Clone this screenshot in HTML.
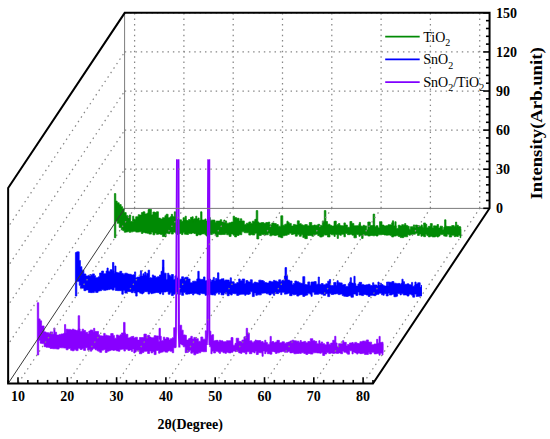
<!DOCTYPE html>
<html><head><meta charset="utf-8"><style>
html,body{margin:0;padding:0;background:#fff;}
svg{display:block;}
</style></head><body>
<svg width="550" height="439" viewBox="0 0 550 439">
<rect width="550" height="439" fill="#fff"/>
<path d="M115.70,201.09 L117.20,201.09 L117.20,202.78 L119.20,202.78 L119.20,204.57 L121.20,204.57 L121.20,206.69 L122.70,206.69 L122.70,208.84 L124.20,208.84 L124.20,212.60 L126.20,212.60 L126.20,215.43 L127.70,215.43 L127.70,216.81 L129.20,216.81 L129.20,215.03 L130.70,215.03 L130.70,221.53 L133.20,221.53 L133.20,219.23 L135.70,219.23 L135.70,216.73 L138.20,216.73 L138.20,214.67 L139.40,214.67 L139.40,215.02 L141.40,215.02 L141.40,212.59 L142.90,212.59 L142.90,211.83 L144.90,211.83 L144.90,213.91 L146.90,213.91 L146.90,213.16 L148.90,213.16 L148.90,209.20 L151.40,209.20 L151.40,214.77 L152.90,214.77 L152.90,212.02 L154.90,212.02 L154.90,212.56 L156.40,212.56 L156.40,211.75 L158.40,211.75 L158.40,218.10 L160.40,218.10 L160.40,218.96 L162.40,218.96 L162.40,217.63 L164.90,217.63 L164.90,215.69 L166.10,215.69 L166.10,214.25 L168.10,214.25 L168.10,217.65 L170.10,217.65 L170.10,216.85 L171.30,216.85 L171.30,216.13 L173.30,216.13 L173.30,216.93 L175.80,216.93 L175.80,218.71 L177.00,218.71 L177.00,219.79 L179.00,219.79 L179.00,219.80 L181.50,219.80 L181.50,221.35 L183.00,221.35 L183.00,217.66 L184.50,217.66 L184.50,220.10 L186.50,220.10 L186.50,220.55 L188.50,220.55 L188.50,219.49 L190.50,219.49 L190.50,217.37 L192.00,217.37 L192.00,219.28 L194.00,219.28 L194.00,218.85 L196.00,218.85 L196.00,218.95 L198.00,218.95 L198.00,217.98 L199.20,217.98 L199.20,220.36 L201.20,220.36 L201.20,219.94 L203.70,219.94 L203.70,219.98 L204.90,219.98 L204.90,218.94 L206.10,218.94 L206.10,221.07 L207.30,221.07 L207.30,220.58 L208.80,220.58 L208.80,217.57 L210.30,217.57 L210.30,220.14 L212.30,220.14 L212.30,220.01 L213.80,220.01 L213.80,220.08 L215.00,220.08 L215.00,222.14 L216.20,222.14 L216.20,221.04 L218.20,221.04 L218.20,221.04 L220.20,221.04 L220.20,219.70 L221.70,219.70 L221.70,222.09 L224.20,222.09 L224.20,222.43 L225.40,222.43 L225.40,220.89 L226.60,220.89 L226.60,223.15 L229.10,223.15 L229.10,222.76 L231.10,222.76 L231.10,222.09 L233.10,222.09 L233.10,216.16 L234.60,216.16 L234.60,217.60 L236.60,217.60 L236.60,218.27 L239.10,218.27 L239.10,221.05 L240.30,221.05 L240.30,218.77 L241.80,218.77 L241.80,220.96 L244.30,220.96 L244.30,224.44 L246.30,224.44 L246.30,223.20 L248.80,223.20 L248.80,221.94 L250.80,221.94 L250.80,223.54 L252.30,223.54 L252.30,221.18 L254.80,221.18 L254.80,219.36 L256.80,219.36 L256.80,221.88 L258.80,221.88 L258.80,222.96 L261.30,222.96 L261.30,222.54 L263.80,222.54 L263.80,223.33 L265.80,223.33 L265.80,222.47 L268.30,222.47 L268.30,222.08 L269.80,222.08 L269.80,224.80 L271.80,224.80 L271.80,222.97 L274.30,222.97 L274.30,223.49 L276.30,223.49 L276.30,224.52 L278.30,224.52 L278.30,226.14 L280.80,226.14 L280.80,215.78 L282.80,215.78 L282.80,225.23 L284.80,225.23 L284.80,224.18 L287.30,224.18 L287.30,222.61 L289.30,222.61 L289.30,223.38 L291.30,223.38 L291.30,226.06 L293.30,226.06 L293.30,224.41 L295.30,224.41 L295.30,224.94 L297.30,224.94 L297.30,220.83 L299.30,220.83 L299.30,223.65 L301.30,223.65 L301.30,224.79 L302.80,224.79 L302.80,225.31 L304.80,225.31 L304.80,224.61 L307.30,224.61 L307.30,225.87 L309.30,225.87 L309.30,222.51 L311.80,222.51 L311.80,225.60 L313.80,225.60 L313.80,224.98 L315.30,224.98 L315.30,225.28 L317.80,225.28 L317.80,224.32 L319.80,224.32 L319.80,225.43 L322.30,225.43 L322.30,220.96 L323.80,220.96 L323.80,222.31 L325.00,222.31 L325.00,221.52 L327.50,221.52 L327.50,224.19 L330.00,224.19 L330.00,225.34 L331.50,225.34 L331.50,225.99 L334.00,225.99 L334.00,221.32 L335.20,221.32 L335.20,225.52 L337.20,225.52 L337.20,224.49 L338.40,224.49 L338.40,223.57 L339.90,223.57 L339.90,225.58 L341.40,225.58 L341.40,225.74 L343.90,225.74 L343.90,222.89 L345.40,222.89 L345.40,225.01 L347.40,225.01 L347.40,227.26 L349.90,227.26 L349.90,221.53 L351.90,221.53 L351.90,223.45 L353.90,223.45 L353.90,225.82 L356.40,225.82 L356.40,225.70 L358.90,225.70 L358.90,224.19 L360.10,224.19 L360.10,225.91 L361.60,225.91 L361.60,226.26 L363.10,226.26 L363.10,225.28 L364.60,225.28 L364.60,225.88 L366.60,225.88 L366.60,229.78 L367.80,229.78 L367.80,222.01 L370.30,222.01 L370.30,225.58 L372.80,225.58 L372.80,225.44 L374.80,225.44 L374.80,226.83 L376.00,226.83 L376.00,225.67 L378.00,225.67 L378.00,227.73 L379.50,227.73 L379.50,221.66 L382.00,221.66 L382.00,225.08 L384.00,225.08 L384.00,225.93 L386.00,225.93 L386.00,225.69 L388.00,225.69 L388.00,224.68 L390.50,224.68 L390.50,225.00 L391.70,225.00 L391.70,222.83 L393.70,222.83 L393.70,225.90 L396.20,225.90 L396.20,228.46 L398.20,228.46 L398.20,225.23 L400.20,225.23 L400.20,226.03 L401.70,226.03 L401.70,224.64 L403.70,224.64 L403.70,225.54 L405.70,225.54 L405.70,225.46 L407.70,225.46 L407.70,226.33 L409.20,226.33 L409.20,229.23 L410.40,229.23 L410.40,226.72 L412.90,226.72 L412.90,227.69 L415.40,227.69 L415.40,225.02 L417.40,225.02 L417.40,225.61 L419.40,225.61 L419.40,226.39 L420.90,226.39 L420.90,226.33 L422.10,226.33 L422.10,227.21 L423.60,227.21 L423.60,222.97 L425.60,222.97 L425.60,224.29 L426.80,224.29 L426.80,227.78 L428.30,227.78 L428.30,226.34 L430.30,226.34 L430.30,223.61 L432.30,223.61 L432.30,227.71 L433.50,227.71 L433.50,225.87 L435.50,225.87 L435.50,226.07 L437.00,226.07 L437.00,224.52 L438.50,224.52 L438.50,227.95 L440.00,227.95 L440.00,226.20 L442.50,226.20 L442.50,229.39 L443.70,229.39 L443.70,227.33 L445.20,227.33 L445.20,226.21 L447.20,226.21 L447.20,226.49 L449.20,226.49 L449.20,226.41 L451.70,226.41 L451.70,225.56 L454.20,225.56 L454.20,226.39 L455.70,226.39 L455.70,227.71 L456.90,227.71 L456.90,225.17 L458.40,225.17 L458.40,226.59 L460.40,226.59 L460.40,226.95 L460.80,226.95 L460.80,236.12 L460.40,236.12 L460.40,235.32 L458.40,235.32 L458.40,236.50 L456.90,236.50 L456.90,236.30 L455.70,236.30 L455.70,236.64 L454.20,236.64 L454.20,235.26 L451.70,235.26 L451.70,236.98 L449.20,236.98 L449.20,234.37 L447.20,234.37 L447.20,236.31 L445.20,236.31 L445.20,236.04 L443.70,236.04 L443.70,234.39 L442.50,234.39 L442.50,234.61 L440.00,234.61 L440.00,236.09 L438.50,236.09 L438.50,237.00 L437.00,237.00 L437.00,236.16 L435.50,236.16 L435.50,236.92 L433.50,236.92 L433.50,236.99 L432.30,236.99 L432.30,236.28 L430.30,236.28 L430.30,236.88 L428.30,236.88 L428.30,235.52 L426.80,235.52 L426.80,234.62 L425.60,234.62 L425.60,236.68 L423.60,236.68 L423.60,235.65 L422.10,235.65 L422.10,236.32 L420.90,236.32 L420.90,233.99 L419.40,233.99 L419.40,235.38 L417.40,235.38 L417.40,233.34 L415.40,233.34 L415.40,234.21 L412.90,234.21 L412.90,234.38 L410.40,234.38 L410.40,235.26 L409.20,235.26 L409.20,234.65 L407.70,234.65 L407.70,236.78 L405.70,236.78 L405.70,236.71 L403.70,236.71 L403.70,237.65 L401.70,237.65 L401.70,237.57 L400.20,237.57 L400.20,236.47 L398.20,236.47 L398.20,235.60 L396.20,235.60 L396.20,236.08 L393.70,236.08 L393.70,236.96 L391.70,236.96 L391.70,235.71 L390.50,235.71 L390.50,235.09 L388.00,235.09 L388.00,235.14 L386.00,235.14 L386.00,234.99 L384.00,234.99 L384.00,234.49 L382.00,234.49 L382.00,234.77 L379.50,234.77 L379.50,234.75 L378.00,234.75 L378.00,236.03 L376.00,236.03 L376.00,235.34 L374.80,235.34 L374.80,235.81 L372.80,235.81 L372.80,235.41 L370.30,235.41 L370.30,236.03 L367.80,236.03 L367.80,234.89 L366.60,234.89 L366.60,235.31 L364.60,235.31 L364.60,234.55 L363.10,234.55 L363.10,238.41 L361.60,238.41 L361.60,235.37 L360.10,235.37 L360.10,236.35 L358.90,236.35 L358.90,234.43 L356.40,234.43 L356.40,237.80 L353.90,237.80 L353.90,235.14 L351.90,235.14 L351.90,234.32 L349.90,234.32 L349.90,234.67 L347.40,234.67 L347.40,233.42 L345.40,233.42 L345.40,236.80 L343.90,236.80 L343.90,234.28 L341.40,234.28 L341.40,235.30 L339.90,235.30 L339.90,234.66 L338.40,234.66 L338.40,238.41 L337.20,238.41 L337.20,234.57 L335.20,234.57 L335.20,236.45 L334.00,236.45 L334.00,234.85 L331.50,234.85 L331.50,233.96 L330.00,233.96 L330.00,236.94 L327.50,236.94 L327.50,235.05 L325.00,235.05 L325.00,234.81 L323.80,234.81 L323.80,236.18 L322.30,236.18 L322.30,237.04 L319.80,237.04 L319.80,235.67 L317.80,235.67 L317.80,234.23 L315.30,234.23 L315.30,235.05 L313.80,235.05 L313.80,236.23 L311.80,236.23 L311.80,235.39 L309.30,235.39 L309.30,235.52 L307.30,235.52 L307.30,238.65 L304.80,238.65 L304.80,237.54 L302.80,237.54 L302.80,234.67 L301.30,234.67 L301.30,236.30 L299.30,236.30 L299.30,234.57 L297.30,234.57 L297.30,236.15 L295.30,236.15 L295.30,234.01 L293.30,234.01 L293.30,234.49 L291.30,234.49 L291.30,233.19 L289.30,233.19 L289.30,234.39 L287.30,234.39 L287.30,235.32 L284.80,235.32 L284.80,235.74 L282.80,235.74 L282.80,237.69 L280.80,237.69 L280.80,236.98 L278.30,236.98 L278.30,235.01 L276.30,235.01 L276.30,235.54 L274.30,235.54 L274.30,235.12 L271.80,235.12 L271.80,235.86 L269.80,235.86 L269.80,233.29 L268.30,233.29 L268.30,234.79 L265.80,234.79 L265.80,235.05 L263.80,235.05 L263.80,234.45 L261.30,234.45 L261.30,235.49 L258.80,235.49 L258.80,238.92 L256.80,238.92 L256.80,233.29 L254.80,233.29 L254.80,234.97 L252.30,234.97 L252.30,234.55 L250.80,234.55 L250.80,235.09 L248.80,235.09 L248.80,232.77 L246.30,232.77 L246.30,232.77 L244.30,232.77 L244.30,231.85 L241.80,231.85 L241.80,234.74 L240.30,234.74 L240.30,234.44 L239.10,234.44 L239.10,235.44 L236.60,235.44 L236.60,236.88 L234.60,236.88 L234.60,235.15 L233.10,235.15 L233.10,233.94 L231.10,233.94 L231.10,236.42 L229.10,236.42 L229.10,234.75 L226.60,234.75 L226.60,233.46 L225.40,233.46 L225.40,234.54 L224.20,234.54 L224.20,234.44 L221.70,234.44 L221.70,234.63 L220.20,234.63 L220.20,234.50 L218.20,234.50 L218.20,236.71 L216.20,236.71 L216.20,234.66 L215.00,234.66 L215.00,233.27 L213.80,233.27 L213.80,233.86 L212.30,233.86 L212.30,234.55 L210.30,234.55 L210.30,233.51 L208.80,233.51 L208.80,234.63 L207.30,234.63 L207.30,236.03 L206.10,236.03 L206.10,234.70 L204.90,234.70 L204.90,233.80 L203.70,233.80 L203.70,233.91 L201.20,233.91 L201.20,234.92 L199.20,234.92 L199.20,234.47 L198.00,234.47 L198.00,235.66 L196.00,235.66 L196.00,233.53 L194.00,233.53 L194.00,232.96 L192.00,232.96 L192.00,233.63 L190.50,233.63 L190.50,233.58 L188.50,233.58 L188.50,234.52 L186.50,234.52 L186.50,234.25 L184.50,234.25 L184.50,232.84 L183.00,232.84 L183.00,234.58 L181.50,234.58 L181.50,233.56 L179.00,233.56 L179.00,234.51 L177.00,234.51 L177.00,233.61 L175.80,233.61 L175.80,232.20 L173.30,232.20 L173.30,234.08 L171.30,234.08 L171.30,232.23 L170.10,232.23 L170.10,233.70 L168.10,233.70 L168.10,233.36 L166.10,233.36 L166.10,236.88 L164.90,236.88 L164.90,236.53 L162.40,236.53 L162.40,234.41 L160.40,234.41 L160.40,233.91 L158.40,233.91 L158.40,234.37 L156.40,234.37 L156.40,233.11 L154.90,233.11 L154.90,234.82 L152.90,234.82 L152.90,232.26 L151.40,232.26 L151.40,234.12 L148.90,234.12 L148.90,233.28 L146.90,233.28 L146.90,232.99 L144.90,232.99 L144.90,232.56 L142.90,232.56 L142.90,233.48 L141.40,233.48 L141.40,231.77 L139.40,231.77 L139.40,232.00 L138.20,232.00 L138.20,232.12 L135.70,232.12 L135.70,231.32 L133.20,231.32 L133.20,231.87 L130.70,231.87 L130.70,232.37 L129.20,232.37 L129.20,231.62 L127.70,231.62 L127.70,231.96 L126.20,231.96 L126.20,232.21 L124.20,232.21 L124.20,230.51 L122.70,230.51 L122.70,229.84 L121.20,229.84 L121.20,227.41 L119.20,227.41 L119.20,223.29 L117.20,223.29 L117.20,220.77 L115.70,220.77Z  M128.20,219.78 L128.20,218.00 L129.40,218.00 L129.40,219.78Z M132.60,221.00 L132.60,216.20 L133.80,216.20 L133.80,221.00Z M148.10,215.69 L148.10,209.60 L149.50,209.60 L149.50,215.69Z M171.30,221.06 L171.30,214.30 L172.50,214.30 L172.50,221.06Z M174.30,221.17 L174.30,211.80 L175.70,211.80 L175.70,221.17Z M185.10,221.52 L185.10,216.20 L186.30,216.20 L186.30,221.52Z M192.00,221.75 L192.00,216.80 L193.20,216.80 L193.20,221.75Z M195.70,221.88 L195.70,216.20 L196.90,216.20 L196.90,221.88Z M200.60,222.13 L200.60,211.80 L202.00,211.80 L202.00,222.13Z M223.80,223.78 L223.80,220.00 L225.00,220.00 L225.00,223.78Z M256.20,225.22 L256.20,210.60 L257.80,210.60 L257.80,225.22Z M286.90,226.70 L286.90,221.20 L288.10,221.20 L288.10,226.70Z M324.30,227.60 L324.30,210.60 L325.90,210.60 L325.90,227.60Z M335.10,227.77 L335.10,221.10 L336.30,221.10 L336.30,227.77Z M359.30,228.16 L359.30,222.40 L360.50,222.40 L360.50,228.16Z M373.10,228.38 L373.10,214.10 L374.70,214.10 L374.70,228.38Z M392.40,228.69 L392.40,220.80 L393.60,220.80 L393.60,228.69Z M394.90,228.73 L394.90,221.70 L396.10,221.70 L396.10,228.73Z M404.60,228.84 L404.60,223.60 L405.80,223.60 L405.80,228.84Z M413.40,228.92 L413.40,224.90 L414.60,224.90 L414.60,228.92Z M421.10,228.98 L421.10,224.90 L422.30,224.90 L422.30,228.98Z M444.60,229.18 L444.60,219.80 L446.00,219.80 L446.00,229.18Z M455.50,229.27 L455.50,222.10 L456.70,222.10 L456.70,229.27Z M114.40,237.70 L114.40,193.60 L115.80,193.60 L115.80,237.70Z M460.00,229.30 L460.80,229.30 L460.80,237.70 L460.00,237.70Z" fill="#008a04" stroke="#008a04" stroke-width="0.7" stroke-linejoin="bevel"/>
<path d="M76.70,251.85 L79.20,251.85 L79.20,260.53 L80.40,260.53 L80.40,266.66 L81.90,266.66 L81.90,270.13 L83.90,270.13 L83.90,273.97 L85.90,273.97 L85.90,275.90 L88.40,275.90 L88.40,275.19 L90.40,275.19 L90.40,275.35 L92.40,275.35 L92.40,273.89 L94.40,273.89 L94.40,275.74 L95.60,275.74 L95.60,277.69 L98.10,277.69 L98.10,276.87 L99.60,276.87 L99.60,273.03 L101.60,273.03 L101.60,271.02 L103.60,271.02 L103.60,273.75 L106.10,273.75 L106.10,271.00 L108.10,271.00 L108.10,271.39 L110.10,271.39 L110.10,269.69 L112.10,269.69 L112.10,271.13 L114.10,271.13 L114.10,273.60 L115.30,273.60 L115.30,272.35 L117.30,272.35 L117.30,272.79 L119.80,272.79 L119.80,271.32 L121.80,271.32 L121.80,273.53 L123.30,273.53 L123.30,274.24 L124.80,274.24 L124.80,273.18 L127.30,273.18 L127.30,274.05 L129.30,274.05 L129.30,274.27 L131.30,274.27 L131.30,275.04 L133.30,275.04 L133.30,274.66 L134.50,274.66 L134.50,271.89 L135.70,271.89 L135.70,277.83 L137.20,277.83 L137.20,277.03 L139.70,277.03 L139.70,276.46 L141.70,276.46 L141.70,276.08 L142.90,276.08 L142.90,273.76 L144.10,273.76 L144.10,275.62 L146.60,275.62 L146.60,273.49 L148.10,273.49 L148.10,270.20 L149.60,270.20 L149.60,277.66 L151.10,277.66 L151.10,278.02 L152.30,278.02 L152.30,274.91 L153.50,274.91 L153.50,275.90 L155.50,275.90 L155.50,277.21 L157.50,277.21 L157.50,276.68 L159.50,276.68 L159.50,274.96 L161.00,274.96 L161.00,271.27 L162.50,271.27 L162.50,267.27 L163.70,267.27 L163.70,273.17 L166.20,273.17 L166.20,279.42 L168.20,279.42 L168.20,275.13 L170.20,275.13 L170.20,276.23 L171.40,276.23 L171.40,274.49 L173.40,274.49 L173.40,279.54 L174.90,279.54 L174.90,275.86 L176.90,275.86 L176.90,277.94 L178.90,277.94 L178.90,279.75 L180.40,279.75 L180.40,278.91 L181.60,278.91 L181.60,276.79 L183.60,276.79 L183.60,279.12 L185.60,279.12 L185.60,277.18 L188.10,277.18 L188.10,278.92 L190.10,278.92 L190.10,282.80 L192.60,282.80 L192.60,281.22 L193.80,281.22 L193.80,281.15 L195.30,281.15 L195.30,281.28 L196.80,281.28 L196.80,278.91 L198.80,278.91 L198.80,278.90 L200.30,278.90 L200.30,279.42 L202.30,279.42 L202.30,279.28 L203.50,279.28 L203.50,276.92 L205.00,276.92 L205.00,280.79 L206.50,280.79 L206.50,280.59 L208.50,280.59 L208.50,279.07 L210.50,279.07 L210.50,281.17 L211.70,281.17 L211.70,279.99 L213.20,279.99 L213.20,277.39 L214.40,277.39 L214.40,280.70 L215.60,280.70 L215.60,278.40 L216.80,278.40 L216.80,279.72 L218.30,279.72 L218.30,279.98 L219.50,279.98 L219.50,279.67 L221.00,279.67 L221.00,278.89 L222.50,278.89 L222.50,278.69 L224.00,278.69 L224.00,280.67 L225.20,280.67 L225.20,279.96 L227.20,279.96 L227.20,280.08 L229.20,280.08 L229.20,281.71 L230.70,281.71 L230.70,281.82 L232.20,281.82 L232.20,281.79 L234.20,281.79 L234.20,283.69 L236.70,283.69 L236.70,282.62 L238.70,282.62 L238.70,278.99 L240.20,278.99 L240.20,280.78 L242.20,280.78 L242.20,279.01 L244.70,279.01 L244.70,283.45 L245.90,283.45 L245.90,280.47 L247.90,280.47 L247.90,281.82 L249.10,281.82 L249.10,281.97 L250.30,281.97 L250.30,279.77 L252.30,279.77 L252.30,283.25 L254.30,283.25 L254.30,282.02 L255.80,282.02 L255.80,282.43 L257.30,282.43 L257.30,282.87 L258.80,282.87 L258.80,280.15 L261.30,280.15 L261.30,280.51 L263.30,280.51 L263.30,281.34 L264.50,281.34 L264.50,282.59 L266.50,282.59 L266.50,283.01 L269.00,283.01 L269.00,281.27 L271.00,281.27 L271.00,281.87 L273.50,281.87 L273.50,280.34 L274.70,280.34 L274.70,280.91 L276.70,280.91 L276.70,281.73 L278.70,281.73 L278.70,279.80 L280.70,279.80 L280.70,281.52 L281.90,281.52 L281.90,280.33 L284.40,280.33 L284.40,275.97 L285.60,275.97 L285.60,275.54 L287.60,275.54 L287.60,280.09 L289.60,280.09 L289.60,280.98 L292.10,280.98 L292.10,284.68 L293.30,284.68 L293.30,283.43 L294.80,283.43 L294.80,281.01 L296.80,281.01 L296.80,281.77 L298.80,281.77 L298.80,282.66 L300.30,282.66 L300.30,283.32 L302.80,283.32 L302.80,276.64 L304.80,276.64 L304.80,284.52 L306.30,284.52 L306.30,284.82 L307.80,284.82 L307.80,281.92 L309.80,281.92 L309.80,285.14 L311.00,285.14 L311.00,282.06 L312.20,282.06 L312.20,281.93 L314.20,281.93 L314.20,281.55 L316.20,281.55 L316.20,284.19 L318.70,284.19 L318.70,284.42 L321.20,284.42 L321.20,283.55 L323.20,283.55 L323.20,284.72 L325.70,284.72 L325.70,283.81 L327.70,283.81 L327.70,281.15 L329.70,281.15 L329.70,285.90 L331.20,285.90 L331.20,285.60 L333.70,285.60 L333.70,282.46 L336.20,282.46 L336.20,285.58 L338.20,285.58 L338.20,282.69 L340.20,282.69 L340.20,282.89 L342.20,282.89 L342.20,284.87 L343.70,284.87 L343.70,284.44 L345.70,284.44 L345.70,286.44 L348.20,286.44 L348.20,283.70 L349.40,283.70 L349.40,282.05 L350.90,282.05 L350.90,283.09 L353.40,283.09 L353.40,283.65 L355.90,283.65 L355.90,286.08 L357.90,286.08 L357.90,283.98 L359.10,283.98 L359.10,282.35 L361.60,282.35 L361.60,284.38 L363.60,284.38 L363.60,285.09 L366.10,285.09 L366.10,284.83 L368.10,284.83 L368.10,284.26 L370.10,284.26 L370.10,285.50 L372.60,285.50 L372.60,282.72 L373.80,282.72 L373.80,284.89 L375.80,284.89 L375.80,285.07 L377.00,285.07 L377.00,285.99 L379.00,285.99 L379.00,283.26 L381.50,283.26 L381.50,284.58 L383.00,284.58 L383.00,285.38 L384.20,285.38 L384.20,286.06 L386.20,286.06 L386.20,286.10 L388.20,286.10 L388.20,281.98 L389.40,281.98 L389.40,282.30 L391.90,282.30 L391.90,281.56 L393.90,281.56 L393.90,283.21 L396.40,283.21 L396.40,283.75 L397.60,283.75 L397.60,283.43 L400.10,283.43 L400.10,284.37 L401.30,284.37 L401.30,283.25 L403.30,283.25 L403.30,281.68 L404.50,281.68 L404.50,284.28 L407.00,284.28 L407.00,283.87 L409.00,283.87 L409.00,284.81 L411.50,284.81 L411.50,282.38 L412.70,282.38 L412.70,286.23 L414.70,286.23 L414.70,285.11 L416.20,285.11 L416.20,283.98 L417.70,283.98 L417.70,282.77 L420.20,282.77 L420.20,287.59 L421.40,287.59 L421.40,285.01 L421.50,285.01 L421.50,294.29 L421.40,294.29 L421.40,295.81 L420.20,295.81 L420.20,296.35 L417.70,296.35 L417.70,296.45 L416.20,296.45 L416.20,294.12 L414.70,294.12 L414.70,297.14 L412.70,297.14 L412.70,295.14 L411.50,295.14 L411.50,294.22 L409.00,294.22 L409.00,296.04 L407.00,296.04 L407.00,294.88 L404.50,294.88 L404.50,295.06 L403.30,295.06 L403.30,293.82 L401.30,293.82 L401.30,294.91 L400.10,294.91 L400.10,293.57 L397.60,293.57 L397.60,296.15 L396.40,296.15 L396.40,296.70 L393.90,296.70 L393.90,294.23 L391.90,294.23 L391.90,295.03 L389.40,295.03 L389.40,293.30 L388.20,293.30 L388.20,295.94 L386.20,295.94 L386.20,293.70 L384.20,293.70 L384.20,295.28 L383.00,295.28 L383.00,294.80 L381.50,294.80 L381.50,293.22 L379.00,293.22 L379.00,294.35 L377.00,294.35 L377.00,294.69 L375.80,294.69 L375.80,295.68 L373.80,295.68 L373.80,295.32 L372.60,295.32 L372.60,295.37 L370.10,295.37 L370.10,296.40 L368.10,296.40 L368.10,295.06 L366.10,295.06 L366.10,294.40 L363.60,294.40 L363.60,295.59 L361.60,295.59 L361.60,295.02 L359.10,295.02 L359.10,291.99 L357.90,291.99 L357.90,295.42 L355.90,295.42 L355.90,294.06 L353.40,294.06 L353.40,297.21 L350.90,297.21 L350.90,295.70 L349.40,295.70 L349.40,295.88 L348.20,295.88 L348.20,296.46 L345.70,296.46 L345.70,296.22 L343.70,296.22 L343.70,295.56 L342.20,295.56 L342.20,294.02 L340.20,294.02 L340.20,294.60 L338.20,294.60 L338.20,293.71 L336.20,293.71 L336.20,293.99 L333.70,293.99 L333.70,294.53 L331.20,294.53 L331.20,293.38 L329.70,293.38 L329.70,296.61 L327.70,296.61 L327.70,293.64 L325.70,293.64 L325.70,295.34 L323.20,295.34 L323.20,294.22 L321.20,294.22 L321.20,293.72 L318.70,293.72 L318.70,294.34 L316.20,294.34 L316.20,294.37 L314.20,294.37 L314.20,292.13 L312.20,292.13 L312.20,296.29 L311.00,296.29 L311.00,294.19 L309.80,294.19 L309.80,293.31 L307.80,293.31 L307.80,295.09 L306.30,295.09 L306.30,295.42 L304.80,295.42 L304.80,296.38 L302.80,296.38 L302.80,294.64 L300.30,294.64 L300.30,295.05 L298.80,295.05 L298.80,296.07 L296.80,296.07 L296.80,294.41 L294.80,294.41 L294.80,294.86 L293.30,294.86 L293.30,294.01 L292.10,294.01 L292.10,295.65 L289.60,295.65 L289.60,293.29 L287.60,293.29 L287.60,293.99 L285.60,293.99 L285.60,294.13 L284.40,294.13 L284.40,292.30 L281.90,292.30 L281.90,294.67 L280.70,294.67 L280.70,292.59 L278.70,292.59 L278.70,293.64 L276.70,293.64 L276.70,293.48 L274.70,293.48 L274.70,295.33 L273.50,295.33 L273.50,293.82 L271.00,293.82 L271.00,294.92 L269.00,294.92 L269.00,293.86 L266.50,293.86 L266.50,293.01 L264.50,293.01 L264.50,293.06 L263.30,293.06 L263.30,293.23 L261.30,293.23 L261.30,294.86 L258.80,294.86 L258.80,294.79 L257.30,294.79 L257.30,295.30 L255.80,295.30 L255.80,292.90 L254.30,292.90 L254.30,296.57 L252.30,296.57 L252.30,291.83 L250.30,291.83 L250.30,294.06 L249.10,294.06 L249.10,294.41 L247.90,294.41 L247.90,294.31 L245.90,294.31 L245.90,295.34 L244.70,295.34 L244.70,294.13 L242.20,294.13 L242.20,294.22 L240.20,294.22 L240.20,294.73 L238.70,294.73 L238.70,295.38 L236.70,295.38 L236.70,293.77 L234.20,293.77 L234.20,293.44 L232.20,293.44 L232.20,295.06 L230.70,295.06 L230.70,293.88 L229.20,293.88 L229.20,295.71 L227.20,295.71 L227.20,293.86 L225.20,293.86 L225.20,293.04 L224.00,293.04 L224.00,294.91 L222.50,294.91 L222.50,294.83 L221.00,294.83 L221.00,292.50 L219.50,292.50 L219.50,294.16 L218.30,294.16 L218.30,292.62 L216.80,292.62 L216.80,293.19 L215.60,293.19 L215.60,295.14 L214.40,295.14 L214.40,294.86 L213.20,294.86 L213.20,294.89 L211.70,294.89 L211.70,294.65 L210.50,294.65 L210.50,293.69 L208.50,293.69 L208.50,294.95 L206.50,294.95 L206.50,295.31 L205.00,295.31 L205.00,293.67 L203.50,293.67 L203.50,293.70 L202.30,293.70 L202.30,293.34 L200.30,293.34 L200.30,294.78 L198.80,294.78 L198.80,294.07 L196.80,294.07 L196.80,293.14 L195.30,293.14 L195.30,293.42 L193.80,293.42 L193.80,294.99 L192.60,294.99 L192.60,293.47 L190.10,293.47 L190.10,293.95 L188.10,293.95 L188.10,294.15 L185.60,294.15 L185.60,292.58 L183.60,292.58 L183.60,295.37 L181.60,295.37 L181.60,292.38 L180.40,292.38 L180.40,294.48 L178.90,294.48 L178.90,293.97 L176.90,293.97 L176.90,293.21 L174.90,293.21 L174.90,294.19 L173.40,294.19 L173.40,295.54 L171.40,295.54 L171.40,292.67 L170.20,292.67 L170.20,294.24 L168.20,294.24 L168.20,291.55 L166.20,291.55 L166.20,291.97 L163.70,291.97 L163.70,294.60 L162.50,294.60 L162.50,292.26 L161.00,292.26 L161.00,293.91 L159.50,293.91 L159.50,292.65 L157.50,292.65 L157.50,292.53 L155.50,292.53 L155.50,292.99 L153.50,292.99 L153.50,293.27 L152.30,293.27 L152.30,293.71 L151.10,293.71 L151.10,292.75 L149.60,292.75 L149.60,294.02 L148.10,294.02 L148.10,291.81 L146.60,291.81 L146.60,291.64 L144.10,291.64 L144.10,293.04 L142.90,293.04 L142.90,293.95 L141.70,293.95 L141.70,293.16 L139.70,293.16 L139.70,291.90 L137.20,291.90 L137.20,296.11 L135.70,296.11 L135.70,292.98 L134.50,292.98 L134.50,291.58 L133.30,291.58 L133.30,292.68 L131.30,292.68 L131.30,291.64 L129.30,291.64 L129.30,291.49 L127.30,291.49 L127.30,293.11 L124.80,293.11 L124.80,290.51 L123.30,290.51 L123.30,294.21 L121.80,294.21 L121.80,290.65 L119.80,290.65 L119.80,290.65 L117.30,290.65 L117.30,290.46 L115.30,290.46 L115.30,287.75 L114.10,287.75 L114.10,290.10 L112.10,290.10 L112.10,289.09 L110.10,289.09 L110.10,289.62 L108.10,289.62 L108.10,289.88 L106.10,289.88 L106.10,290.35 L103.60,290.35 L103.60,289.75 L101.60,289.75 L101.60,290.69 L99.60,290.69 L99.60,291.07 L98.10,291.07 L98.10,292.38 L95.60,292.38 L95.60,291.19 L94.40,291.19 L94.40,292.58 L92.40,292.58 L92.40,292.64 L90.40,292.64 L90.40,292.40 L88.40,292.40 L88.40,289.91 L85.90,289.91 L85.90,290.67 L83.90,290.67 L83.90,288.15 L81.90,288.15 L81.90,288.29 L80.40,288.29 L80.40,285.31 L79.20,285.31 L79.20,281.33 L76.70,281.33Z  M90.10,278.00 L90.10,274.50 L91.30,274.50 L91.30,278.00Z M107.00,273.27 L107.00,268.00 L108.20,268.00 L108.20,273.27Z M112.50,273.80 L112.50,262.50 L113.90,262.50 L113.90,273.80Z M114.80,274.70 L114.80,266.00 L116.00,266.00 L116.00,274.70Z M140.40,278.53 L140.40,270.70 L141.60,270.70 L141.60,278.53Z M144.70,278.68 L144.70,272.00 L145.90,272.00 L145.90,278.68Z M162.40,279.27 L162.40,260.00 L164.00,260.00 L164.00,279.27Z M167.60,279.44 L167.60,273.20 L168.80,273.20 L168.80,279.44Z M184.40,281.67 L184.40,277.80 L185.60,277.80 L185.60,281.67Z M197.80,282.12 L197.80,271.30 L199.20,271.30 L199.20,282.12Z M217.50,282.77 L217.50,272.80 L218.90,272.80 L218.90,282.77Z M230.20,283.19 L230.20,277.80 L231.40,277.80 L231.40,283.19Z M285.00,284.64 L285.00,267.60 L286.60,267.60 L286.60,284.64Z M318.20,285.56 L318.20,277.00 L319.40,277.00 L319.40,285.56Z M329.40,285.90 L329.40,279.50 L330.60,279.50 L330.60,285.90Z M337.00,286.13 L337.00,280.70 L338.20,280.70 L338.20,286.13Z M350.20,286.51 L350.20,277.70 L351.40,277.70 L351.40,286.51Z M353.90,286.53 L353.90,276.30 L355.10,276.30 L355.10,286.53Z M377.90,286.70 L377.90,282.00 L379.10,282.00 L379.10,286.70Z M386.60,286.76 L386.60,282.00 L387.80,282.00 L387.80,286.76Z M401.90,286.87 L401.90,279.20 L403.10,279.20 L403.10,286.87Z M414.90,286.96 L414.90,282.00 L416.10,282.00 L416.10,286.96Z M75.40,296.00 L75.40,252.60 L76.80,252.60 L76.80,296.00Z M420.70,287.00 L421.50,287.00 L421.50,296.00 L420.70,296.00Z" fill="#0000ff" stroke="#0000ff" stroke-width="0.7" stroke-linejoin="bevel"/>
<path d="M38.60,318.88 L40.10,318.88 L40.10,320.86 L41.60,320.86 L41.60,325.98 L44.10,325.98 L44.10,331.88 L46.10,331.88 L46.10,332.65 L48.60,332.65 L48.60,333.15 L50.10,333.15 L50.10,331.89 L52.60,331.89 L52.60,334.32 L55.10,334.32 L55.10,332.18 L56.60,332.18 L56.60,335.12 L59.10,335.12 L59.10,334.38 L61.10,334.38 L61.10,333.91 L63.60,333.91 L63.60,333.36 L66.10,333.36 L66.10,329.24 L68.10,329.24 L68.10,329.38 L70.60,329.38 L70.60,330.05 L72.10,330.05 L72.10,329.17 L74.10,329.17 L74.10,329.99 L76.10,329.99 L76.10,330.56 L78.10,330.56 L78.10,328.93 L80.10,328.93 L80.10,331.44 L82.10,331.44 L82.10,329.13 L83.60,329.13 L83.60,330.48 L85.60,330.48 L85.60,332.34 L87.60,332.34 L87.60,334.03 L88.80,334.03 L88.80,331.07 L90.30,331.07 L90.30,329.95 L91.80,329.95 L91.80,330.17 L93.00,330.17 L93.00,332.44 L95.00,332.44 L95.00,331.55 L97.00,331.55 L97.00,331.45 L98.50,331.45 L98.50,334.75 L99.70,334.75 L99.70,335.85 L101.70,335.85 L101.70,336.01 L103.70,336.01 L103.70,333.39 L105.20,333.39 L105.20,335.15 L107.20,335.15 L107.20,335.77 L109.20,335.77 L109.20,335.96 L110.70,335.96 L110.70,333.58 L113.20,333.58 L113.20,335.44 L114.40,335.44 L114.40,338.18 L116.40,338.18 L116.40,334.97 L118.40,334.97 L118.40,335.90 L119.90,335.90 L119.90,334.78 L121.40,334.78 L121.40,332.97 L123.90,332.97 L123.90,332.94 L125.40,332.94 L125.40,334.32 L127.90,334.32 L127.90,337.93 L129.90,337.93 L129.90,337.15 L131.40,337.15 L131.40,336.52 L132.60,336.52 L132.60,336.34 L133.80,336.34 L133.80,338.03 L135.00,338.03 L135.00,337.38 L136.20,337.38 L136.20,337.22 L137.40,337.22 L137.40,340.12 L139.40,340.12 L139.40,337.56 L141.90,337.56 L141.90,337.54 L143.90,337.54 L143.90,334.10 L146.40,334.10 L146.40,336.50 L147.60,336.50 L147.60,335.28 L149.60,335.28 L149.60,337.04 L151.10,337.04 L151.10,337.86 L152.60,337.86 L152.60,337.66 L154.10,337.66 L154.10,335.65 L156.10,335.65 L156.10,335.96 L158.60,335.96 L158.60,341.16 L159.80,341.16 L159.80,336.30 L161.30,336.30 L161.30,340.64 L163.30,340.64 L163.30,337.14 L164.80,337.14 L164.80,339.10 L166.30,339.10 L166.30,337.58 L167.80,337.58 L167.80,337.89 L169.00,337.89 L169.00,340.00 L170.20,340.00 L170.20,338.73 L172.20,338.73 L172.20,337.74 L173.70,337.74 L173.70,327.72 L175.70,327.72 L175.70,347.72 L173.70,347.72 L173.70,352.73 L172.20,352.73 L172.20,351.27 L170.20,351.27 L170.20,350.78 L169.00,350.78 L169.00,351.00 L167.80,351.00 L167.80,352.22 L166.30,352.22 L166.30,352.12 L164.80,352.12 L164.80,350.90 L163.30,350.90 L163.30,352.12 L161.30,352.12 L161.30,352.60 L159.80,352.60 L159.80,353.23 L158.60,353.23 L158.60,350.46 L156.10,350.46 L156.10,354.59 L154.10,354.59 L154.10,351.73 L152.60,351.73 L152.60,352.92 L151.10,352.92 L151.10,351.00 L149.60,351.00 L149.60,353.49 L147.60,353.49 L147.60,351.15 L146.40,351.15 L146.40,351.32 L143.90,351.32 L143.90,352.56 L141.90,352.56 L141.90,353.74 L139.40,353.74 L139.40,350.85 L137.40,350.85 L137.40,350.62 L136.20,350.62 L136.20,352.07 L135.00,352.07 L135.00,352.93 L133.80,352.93 L133.80,348.93 L132.60,348.93 L132.60,351.42 L131.40,351.42 L131.40,349.91 L129.90,349.91 L129.90,350.42 L127.90,350.42 L127.90,349.26 L125.40,349.26 L125.40,351.07 L123.90,351.07 L123.90,349.15 L121.40,349.15 L121.40,349.55 L119.90,349.55 L119.90,351.31 L118.40,351.31 L118.40,350.88 L116.40,350.88 L116.40,350.10 L114.40,350.10 L114.40,350.47 L113.20,350.47 L113.20,350.09 L110.70,350.09 L110.70,350.63 L109.20,350.63 L109.20,351.17 L107.20,351.17 L107.20,352.41 L105.20,352.41 L105.20,349.47 L103.70,349.47 L103.70,350.13 L101.70,350.13 L101.70,352.35 L99.70,352.35 L99.70,351.32 L98.50,351.32 L98.50,350.83 L97.00,350.83 L97.00,349.76 L95.00,349.76 L95.00,348.44 L93.00,348.44 L93.00,349.76 L91.80,349.76 L91.80,351.16 L90.30,351.16 L90.30,349.68 L88.80,349.68 L88.80,350.21 L87.60,350.21 L87.60,347.71 L85.60,347.71 L85.60,350.40 L83.60,350.40 L83.60,348.79 L82.10,348.79 L82.10,349.43 L80.10,349.43 L80.10,348.35 L78.10,348.35 L78.10,350.62 L76.10,350.62 L76.10,349.84 L74.10,349.84 L74.10,350.77 L72.10,350.77 L72.10,350.30 L70.60,350.30 L70.60,348.47 L68.10,348.47 L68.10,349.78 L66.10,349.78 L66.10,348.03 L63.60,348.03 L63.60,347.84 L61.10,347.84 L61.10,347.68 L59.10,347.68 L59.10,349.06 L56.60,349.06 L56.60,348.73 L55.10,348.73 L55.10,348.72 L52.60,348.72 L52.60,348.51 L50.10,348.51 L50.10,347.50 L48.60,347.50 L48.60,347.29 L46.10,347.29 L46.10,346.66 L44.10,346.66 L44.10,343.61 L41.60,343.61 L41.60,343.21 L40.10,343.21 L40.10,340.27 L38.60,340.27Z M179.70,325.22 L181.70,325.22 L181.70,330.15 L183.20,330.15 L183.20,334.89 L185.20,334.89 L185.20,335.35 L186.40,335.35 L186.40,340.08 L188.40,340.08 L188.40,338.73 L189.60,338.73 L189.60,338.05 L190.80,338.05 L190.80,336.28 L192.30,336.28 L192.30,339.01 L193.80,339.01 L193.80,337.42 L195.80,337.42 L195.80,338.69 L198.30,338.69 L198.30,341.20 L200.80,341.20 L200.80,336.99 L202.80,336.99 L202.80,339.17 L205.30,339.17 L205.30,330.81 L206.50,330.81 L206.50,351.71 L205.30,351.71 L205.30,351.74 L202.80,351.74 L202.80,351.42 L200.80,351.42 L200.80,352.81 L198.30,352.81 L198.30,353.40 L195.80,353.40 L195.80,354.85 L193.80,354.85 L193.80,352.87 L192.30,352.87 L192.30,353.23 L190.80,353.23 L190.80,350.27 L189.60,350.27 L189.60,351.45 L188.40,351.45 L188.40,352.38 L186.40,352.38 L186.40,352.68 L185.20,352.68 L185.20,346.80 L183.20,346.80 L183.20,344.99 L181.70,344.99 L181.70,343.94 L179.70,343.94Z M209.70,331.18 L210.90,331.18 L210.90,335.37 L212.10,335.37 L212.10,334.63 L213.60,334.63 L213.60,340.78 L215.60,340.78 L215.60,340.37 L218.10,340.37 L218.10,341.81 L219.30,341.81 L219.30,340.26 L220.50,340.26 L220.50,340.78 L223.00,340.78 L223.00,341.78 L225.00,341.78 L225.00,341.65 L226.50,341.65 L226.50,340.66 L228.50,340.66 L228.50,340.71 L231.00,340.71 L231.00,337.60 L233.00,337.60 L233.00,345.21 L235.00,345.21 L235.00,343.36 L236.20,343.36 L236.20,338.23 L238.70,338.23 L238.70,341.35 L240.70,341.35 L240.70,341.79 L241.90,341.79 L241.90,340.06 L243.90,340.06 L243.90,336.86 L245.40,336.86 L245.40,336.46 L246.90,336.46 L246.90,333.20 L249.40,333.20 L249.40,340.75 L251.90,340.75 L251.90,342.13 L253.90,342.13 L253.90,341.54 L255.10,341.54 L255.10,339.98 L256.30,339.98 L256.30,340.48 L258.30,340.48 L258.30,340.56 L260.80,340.56 L260.80,341.80 L262.00,341.80 L262.00,341.58 L263.20,341.58 L263.20,342.68 L264.70,342.68 L264.70,340.24 L265.90,340.24 L265.90,342.48 L267.40,342.48 L267.40,344.15 L269.90,344.15 L269.90,342.26 L271.90,342.26 L271.90,341.60 L273.90,341.60 L273.90,342.81 L275.40,342.81 L275.40,341.95 L276.90,341.95 L276.90,340.36 L279.40,340.36 L279.40,342.83 L281.90,342.83 L281.90,341.84 L284.40,341.84 L284.40,343.18 L286.40,343.18 L286.40,342.48 L287.90,342.48 L287.90,342.10 L289.90,342.10 L289.90,341.00 L291.90,341.00 L291.90,340.19 L293.90,340.19 L293.90,340.83 L296.40,340.83 L296.40,341.17 L298.90,341.17 L298.90,342.44 L300.10,342.44 L300.10,340.51 L301.30,340.51 L301.30,342.04 L303.80,342.04 L303.80,341.40 L305.80,341.40 L305.80,342.73 L307.80,342.73 L307.80,341.51 L310.30,341.51 L310.30,338.69 L312.80,338.69 L312.80,340.63 L314.80,340.63 L314.80,341.37 L316.80,341.37 L316.80,343.73 L318.80,343.73 L318.80,340.69 L320.00,340.69 L320.00,343.61 L321.20,343.61 L321.20,341.98 L322.70,341.98 L322.70,343.65 L324.70,343.65 L324.70,344.77 L326.70,344.77 L326.70,342.11 L328.70,342.11 L328.70,344.15 L330.70,344.15 L330.70,343.03 L332.70,343.03 L332.70,340.31 L334.70,340.31 L334.70,336.25 L335.90,336.25 L335.90,342.97 L337.10,342.97 L337.10,346.76 L338.60,346.76 L338.60,343.63 L340.60,343.63 L340.60,343.71 L342.60,343.71 L342.60,340.64 L343.80,340.64 L343.80,342.36 L346.30,342.36 L346.30,345.65 L347.50,345.65 L347.50,344.45 L349.50,344.45 L349.50,342.93 L352.00,342.93 L352.00,342.50 L353.20,342.50 L353.20,343.41 L354.70,343.41 L354.70,342.38 L356.70,342.38 L356.70,343.37 L357.90,343.37 L357.90,343.50 L359.90,343.50 L359.90,341.66 L362.40,341.66 L362.40,341.02 L364.40,341.02 L364.40,341.14 L366.40,341.14 L366.40,339.92 L368.40,339.92 L368.40,342.11 L369.60,342.11 L369.60,342.14 L371.60,342.14 L371.60,344.70 L374.10,344.70 L374.10,343.98 L376.60,343.98 L376.60,339.30 L377.80,339.30 L377.80,343.32 L379.00,343.32 L379.00,342.52 L380.20,342.52 L380.20,342.59 L381.40,342.59 L381.40,342.25 L382.60,342.25 L382.60,342.14 L383.00,342.14 L383.00,352.69 L382.60,352.69 L382.60,353.10 L381.40,353.10 L381.40,353.32 L380.20,353.32 L380.20,355.20 L379.00,355.20 L379.00,353.61 L377.80,353.61 L377.80,353.56 L376.60,353.56 L376.60,353.88 L374.10,353.88 L374.10,352.24 L371.60,352.24 L371.60,353.99 L369.60,353.99 L369.60,352.75 L368.40,352.75 L368.40,354.46 L366.40,354.46 L366.40,354.40 L364.40,354.40 L364.40,353.27 L362.40,353.27 L362.40,353.64 L359.90,353.64 L359.90,353.05 L357.90,353.05 L357.90,354.11 L356.70,354.11 L356.70,352.88 L354.70,352.88 L354.70,352.04 L353.20,352.04 L353.20,353.90 L352.00,353.90 L352.00,350.78 L349.50,350.78 L349.50,354.20 L347.50,354.20 L347.50,353.15 L346.30,353.15 L346.30,352.21 L343.80,352.21 L343.80,351.06 L342.60,351.06 L342.60,353.68 L340.60,353.68 L340.60,352.89 L338.60,352.89 L338.60,353.38 L337.10,353.38 L337.10,353.34 L335.90,353.34 L335.90,353.11 L334.70,353.11 L334.70,353.42 L332.70,353.42 L332.70,353.02 L330.70,353.02 L330.70,353.56 L328.70,353.56 L328.70,352.56 L326.70,352.56 L326.70,353.98 L324.70,353.98 L324.70,355.48 L322.70,355.48 L322.70,352.70 L321.20,352.70 L321.20,353.27 L320.00,353.27 L320.00,353.04 L318.80,353.04 L318.80,352.93 L316.80,352.93 L316.80,352.72 L314.80,352.72 L314.80,352.82 L312.80,352.82 L312.80,354.10 L310.30,354.10 L310.30,353.48 L307.80,353.48 L307.80,354.39 L305.80,354.39 L305.80,353.43 L303.80,353.43 L303.80,352.74 L301.30,352.74 L301.30,353.38 L300.10,353.38 L300.10,353.20 L298.90,353.20 L298.90,353.46 L296.40,353.46 L296.40,353.75 L293.90,353.75 L293.90,352.64 L291.90,352.64 L291.90,352.88 L289.90,352.88 L289.90,351.60 L287.90,351.60 L287.90,352.28 L286.40,352.28 L286.40,352.25 L284.40,352.25 L284.40,351.59 L281.90,351.59 L281.90,351.98 L279.40,351.98 L279.40,352.83 L276.90,352.83 L276.90,353.40 L275.40,353.40 L275.40,351.88 L273.90,351.88 L273.90,351.48 L271.90,351.48 L271.90,354.15 L269.90,354.15 L269.90,353.70 L267.40,353.70 L267.40,351.71 L265.90,351.71 L265.90,353.63 L264.70,353.63 L264.70,350.95 L263.20,350.95 L263.20,356.31 L262.00,356.31 L262.00,352.86 L260.80,352.86 L260.80,352.69 L258.30,352.69 L258.30,354.50 L256.30,354.50 L256.30,351.34 L255.10,351.34 L255.10,352.89 L253.90,352.89 L253.90,351.97 L251.90,351.97 L251.90,353.68 L249.40,353.68 L249.40,351.75 L246.90,351.75 L246.90,354.06 L245.40,354.06 L245.40,352.57 L243.90,352.57 L243.90,352.14 L241.90,352.14 L241.90,353.40 L240.70,353.40 L240.70,352.90 L238.70,352.90 L238.70,351.39 L236.20,351.39 L236.20,351.68 L235.00,351.68 L235.00,350.97 L233.00,350.97 L233.00,352.25 L231.00,352.25 L231.00,352.91 L228.50,352.91 L228.50,352.31 L226.50,352.31 L226.50,353.33 L225.00,353.33 L225.00,352.81 L223.00,352.81 L223.00,351.77 L220.50,351.77 L220.50,353.41 L219.30,353.41 L219.30,352.23 L218.10,352.23 L218.10,351.36 L215.60,351.36 L215.60,353.00 L213.60,353.00 L213.60,351.29 L212.10,351.29 L212.10,353.73 L210.90,353.73 L210.90,346.86 L209.70,346.86Z  M53.80,334.66 L53.80,328.00 L55.00,328.00 L55.00,334.66Z M64.50,333.35 L64.50,324.60 L65.70,324.60 L65.70,333.35Z M78.15,332.00 L78.15,315.70 L79.65,315.70 L79.65,332.00Z M93.60,333.00 L93.60,328.30 L94.80,328.30 L94.80,333.00Z M123.50,337.93 L123.50,322.40 L125.10,322.40 L125.10,337.93Z M159.00,339.24 L159.00,328.30 L160.40,328.30 L160.40,339.24Z M246.20,342.74 L246.20,328.30 L247.60,328.30 L247.60,342.74Z M270.10,343.34 L270.10,336.40 L271.30,336.40 L271.30,343.34Z M379.00,343.60 L379.00,336.40 L380.20,336.40 L380.20,343.60Z M37.30,355.00 L37.30,302.70 L38.70,302.70 L38.70,355.00Z M382.20,343.50 L383.00,343.50 L383.00,355.00 L382.20,355.00Z" fill="#8800ff" stroke="#8800ff" stroke-width="0.7" stroke-linejoin="bevel"/>
<path d="M175.60,347.50 L175.95,331.00 L176.90,160.05 L177.55,160.05" fill="none" stroke="#8800ff" stroke-width="1.8" stroke-linejoin="miter"/>
<path d="M177.55,160.20 L178.40,160.20 L178.85,331.00 L179.40,347.50" fill="none" stroke="#8800ff" stroke-width="2.1" stroke-linejoin="miter"/>
<path d="M206.80,345.00 L207.30,331.00 L208.15,160.05 L208.57,160.05" fill="none" stroke="#8800ff" stroke-width="1.8" stroke-linejoin="miter"/>
<path d="M208.57,160.20 L209.20,160.20 L209.25,331.00 L209.60,345.00" fill="none" stroke="#8800ff" stroke-width="2.1" stroke-linejoin="miter"/>
<g stroke="#868686" stroke-width="1.25" stroke-dasharray="1.45 3.9" fill="none">
<line x1="134.60" y1="208.30" x2="134.60" y2="12.85" stroke-dasharray="1.45 3.93"/>
<line x1="183.90" y1="208.30" x2="183.90" y2="12.85" stroke-dasharray="1.45 3.93"/>
<line x1="233.20" y1="208.30" x2="233.20" y2="12.85" stroke-dasharray="1.45 3.93"/>
<line x1="282.50" y1="208.30" x2="282.50" y2="12.85" stroke-dasharray="1.45 3.93"/>
<line x1="331.80" y1="208.30" x2="331.80" y2="12.85" stroke-dasharray="1.45 3.93"/>
<line x1="381.10" y1="208.30" x2="381.10" y2="12.85" stroke-dasharray="1.45 3.93"/>
<line x1="430.40" y1="208.30" x2="430.40" y2="12.85" stroke-dasharray="1.45 3.93"/>
<line x1="479.70" y1="208.30" x2="479.70" y2="12.85" stroke-dasharray="1.45 3.93"/>
<line x1="124.74" y1="169.21" x2="489.56" y2="169.21"/>
<line x1="124.74" y1="130.12" x2="489.56" y2="130.12"/>
<line x1="124.74" y1="91.03" x2="489.56" y2="91.03"/>
<line x1="124.74" y1="51.94" x2="489.56" y2="51.94"/>
<line x1="124.74" y1="12.85" x2="489.56" y2="12.85"/>
<line x1="18.00" y1="383.50" x2="134.60" y2="208.30" stroke-dashoffset="4.5"/>
<line x1="67.30" y1="383.50" x2="183.90" y2="208.30" stroke-dashoffset="4.5"/>
<line x1="116.60" y1="383.50" x2="233.20" y2="208.30" stroke-dashoffset="4.5"/>
<line x1="165.90" y1="383.50" x2="282.50" y2="208.30" stroke-dashoffset="4.5"/>
<line x1="215.20" y1="383.50" x2="331.80" y2="208.30" stroke-dashoffset="4.5"/>
<line x1="264.50" y1="383.50" x2="381.10" y2="208.30" stroke-dashoffset="4.5"/>
<line x1="313.80" y1="383.50" x2="430.40" y2="208.30" stroke-dashoffset="4.5"/>
<line x1="363.10" y1="383.50" x2="479.70" y2="208.30" stroke-dashoffset="4.5"/>
<line x1="8.14" y1="344.41" x2="124.74" y2="169.21" stroke-dashoffset="2.2"/>
<line x1="8.14" y1="305.32" x2="124.74" y2="130.12" stroke-dashoffset="2.2"/>
<line x1="8.14" y1="266.23" x2="124.74" y2="91.03" stroke-dashoffset="2.2"/>
<line x1="8.14" y1="227.14" x2="124.74" y2="51.94" stroke-dashoffset="2.2"/>
<line x1="8.14" y1="188.05" x2="124.74" y2="12.85" stroke-dashoffset="2.2"/>
</g>
<polyline points="124.6,12.85 124.6,208.4 489.56,208.4" stroke="#7c7c7c" stroke-width="1" fill="none"/>
<g stroke="#383838" stroke-width="1" fill="none">
<line x1="8.14" y1="383.50" x2="124.74" y2="208.30"/>
</g>
<g stroke="#000" stroke-width="1.6" fill="none">
<line x1="8.14" y1="383.50" x2="8.14" y2="379.90"/>
<line x1="18.00" y1="383.50" x2="18.00" y2="377.20"/>
<line x1="27.86" y1="383.50" x2="27.86" y2="379.90"/>
<line x1="37.72" y1="383.50" x2="37.72" y2="379.90"/>
<line x1="47.58" y1="383.50" x2="47.58" y2="379.90"/>
<line x1="57.44" y1="383.50" x2="57.44" y2="379.90"/>
<line x1="67.30" y1="383.50" x2="67.30" y2="377.20"/>
<line x1="77.16" y1="383.50" x2="77.16" y2="379.90"/>
<line x1="87.02" y1="383.50" x2="87.02" y2="379.90"/>
<line x1="96.88" y1="383.50" x2="96.88" y2="379.90"/>
<line x1="106.74" y1="383.50" x2="106.74" y2="379.90"/>
<line x1="116.60" y1="383.50" x2="116.60" y2="377.20"/>
<line x1="126.46" y1="383.50" x2="126.46" y2="379.90"/>
<line x1="136.32" y1="383.50" x2="136.32" y2="379.90"/>
<line x1="146.18" y1="383.50" x2="146.18" y2="379.90"/>
<line x1="156.04" y1="383.50" x2="156.04" y2="379.90"/>
<line x1="165.90" y1="383.50" x2="165.90" y2="377.20"/>
<line x1="175.76" y1="383.50" x2="175.76" y2="379.90"/>
<line x1="185.62" y1="383.50" x2="185.62" y2="379.90"/>
<line x1="195.48" y1="383.50" x2="195.48" y2="379.90"/>
<line x1="205.34" y1="383.50" x2="205.34" y2="379.90"/>
<line x1="215.20" y1="383.50" x2="215.20" y2="377.20"/>
<line x1="225.06" y1="383.50" x2="225.06" y2="379.90"/>
<line x1="234.92" y1="383.50" x2="234.92" y2="379.90"/>
<line x1="244.78" y1="383.50" x2="244.78" y2="379.90"/>
<line x1="254.64" y1="383.50" x2="254.64" y2="379.90"/>
<line x1="264.50" y1="383.50" x2="264.50" y2="377.20"/>
<line x1="274.36" y1="383.50" x2="274.36" y2="379.90"/>
<line x1="284.22" y1="383.50" x2="284.22" y2="379.90"/>
<line x1="294.08" y1="383.50" x2="294.08" y2="379.90"/>
<line x1="303.94" y1="383.50" x2="303.94" y2="379.90"/>
<line x1="313.80" y1="383.50" x2="313.80" y2="377.20"/>
<line x1="323.66" y1="383.50" x2="323.66" y2="379.90"/>
<line x1="333.52" y1="383.50" x2="333.52" y2="379.90"/>
<line x1="343.38" y1="383.50" x2="343.38" y2="379.90"/>
<line x1="353.24" y1="383.50" x2="353.24" y2="379.90"/>
<line x1="363.10" y1="383.50" x2="363.10" y2="377.20"/>
<line x1="372.96" y1="383.50" x2="372.96" y2="379.90"/>
<line x1="489.56" y1="208.30" x2="483.26" y2="208.30"/>
<line x1="489.56" y1="200.48" x2="485.96" y2="200.48"/>
<line x1="489.56" y1="192.66" x2="485.96" y2="192.66"/>
<line x1="489.56" y1="184.85" x2="485.96" y2="184.85"/>
<line x1="489.56" y1="177.03" x2="485.96" y2="177.03"/>
<line x1="489.56" y1="169.21" x2="483.26" y2="169.21"/>
<line x1="489.56" y1="161.39" x2="485.96" y2="161.39"/>
<line x1="489.56" y1="153.57" x2="485.96" y2="153.57"/>
<line x1="489.56" y1="145.76" x2="485.96" y2="145.76"/>
<line x1="489.56" y1="137.94" x2="485.96" y2="137.94"/>
<line x1="489.56" y1="130.12" x2="483.26" y2="130.12"/>
<line x1="489.56" y1="122.30" x2="485.96" y2="122.30"/>
<line x1="489.56" y1="114.48" x2="485.96" y2="114.48"/>
<line x1="489.56" y1="106.67" x2="485.96" y2="106.67"/>
<line x1="489.56" y1="98.85" x2="485.96" y2="98.85"/>
<line x1="489.56" y1="91.03" x2="483.26" y2="91.03"/>
<line x1="489.56" y1="83.21" x2="485.96" y2="83.21"/>
<line x1="489.56" y1="75.39" x2="485.96" y2="75.39"/>
<line x1="489.56" y1="67.58" x2="485.96" y2="67.58"/>
<line x1="489.56" y1="59.76" x2="485.96" y2="59.76"/>
<line x1="489.56" y1="51.94" x2="483.26" y2="51.94"/>
<line x1="489.56" y1="44.12" x2="485.96" y2="44.12"/>
<line x1="489.56" y1="36.30" x2="485.96" y2="36.30"/>
<line x1="489.56" y1="28.49" x2="485.96" y2="28.49"/>
<line x1="489.56" y1="20.67" x2="485.96" y2="20.67"/>
<line x1="489.56" y1="12.85" x2="483.26" y2="12.85"/>
</g>
<g stroke="#000" stroke-width="2" fill="none" stroke-linejoin="miter">
<polygon points="8.14,383.50 8.14,188.05 124.74,12.85 489.56,12.85 489.56,208.30 372.96,383.50"/>
</g>
<g font-family="Liberation Serif, serif" font-weight="bold" font-size="14" fill="#000">
<text x="18.00" y="401" text-anchor="middle">10</text>
<text x="67.30" y="401" text-anchor="middle">20</text>
<text x="116.60" y="401" text-anchor="middle">30</text>
<text x="165.90" y="401" text-anchor="middle">40</text>
<text x="215.20" y="401" text-anchor="middle">50</text>
<text x="264.50" y="401" text-anchor="middle">60</text>
<text x="313.80" y="401" text-anchor="middle">70</text>
<text x="363.10" y="401" text-anchor="middle">80</text>
<text x="496" y="213.00">0</text>
<text x="496" y="173.91">30</text>
<text x="496" y="134.82">60</text>
<text x="496" y="95.73">90</text>
<text x="496" y="56.64">120</text>
<text x="496" y="17.55">150</text>
<text transform="translate(157.5,429) scale(1,1.1)" font-size="14">2θ(Degree)</text>
<text transform="translate(542.3,123.4) scale(1,1.1) rotate(-90)" text-anchor="middle" font-size="17">Intensity(Arb.unit)</text>
</g>
<g font-family="Liberation Serif, serif" font-size="14" fill="#000">
<line x1="385.2" y1="36.6" x2="419.7" y2="36.6" stroke="#008a04" stroke-width="1.7"/>
<line x1="385.2" y1="59.4" x2="419.7" y2="59.4" stroke="#0000ff" stroke-width="1.7"/>
<line x1="385.2" y1="82.1" x2="419.7" y2="82.1" stroke="#8000ff" stroke-width="1.7"/>
<text x="423.3" y="41.8">TiO<tspan font-size="10" dy="4.6">2</tspan></text>
<text x="423.3" y="64.2">SnO<tspan font-size="10" dy="4.6">2</tspan></text>
<text x="423.3" y="86.6">SnO<tspan font-size="10" dy="4.6">2</tspan><tspan dy="-4.6">/TiO</tspan><tspan font-size="10" dy="4.6">2</tspan></text>
</g>
</svg>
</body></html>
